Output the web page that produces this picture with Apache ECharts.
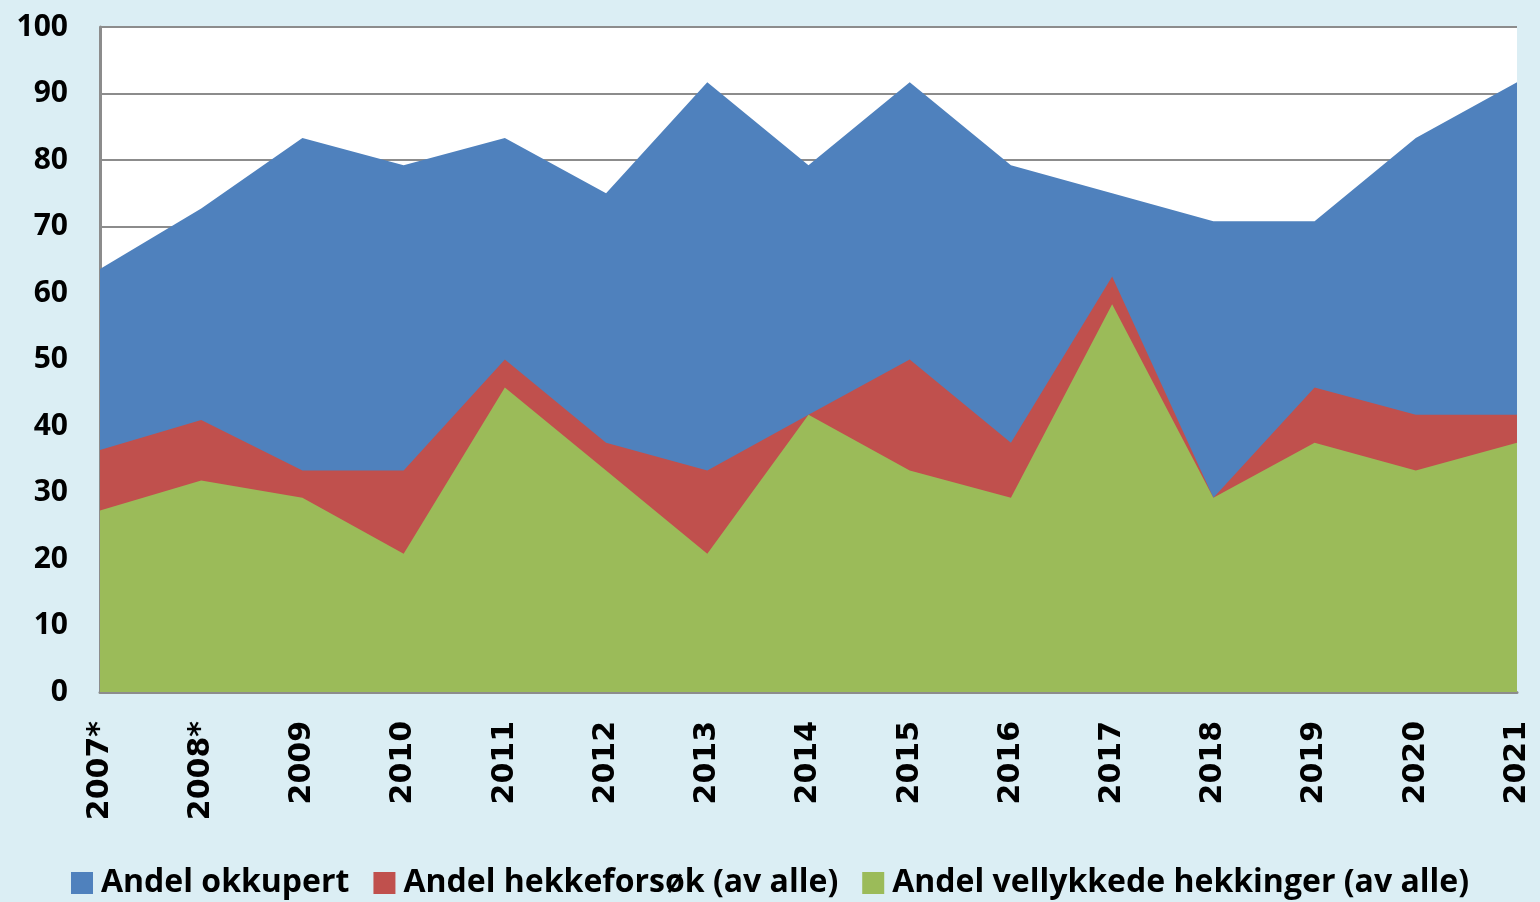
<!DOCTYPE html>
<html>
<head>
<meta charset="utf-8">
<script src="https://cdn.jsdelivr.net/npm/echarts@6/dist/echarts.min.js"></script>
<style>
  html, body { margin: 0; padding: 0; background: #DBEEF4; }
  #chart { width: 1540px; height: 902px; }
</style>
</head>
<body>
<div id="chart"></div>
<script>
// år
var years = ['2007*', '2008*', '2009', '2010', '2011', '2012', '2013', '2014',
             '2015', '2016', '2017', '2018', '2019', '2020', '2021'];
// Andel okkupert
var okkupert = [63.6, 72.7, 83.3, 79.2, 83.3, 75.0, 91.7, 79.2, 91.7, 79.2, 75.0, 70.8, 70.8, 83.3, 91.7];
// Andel hekkeforsøk (av alle)
var hekkeforsok = [36.4, 40.9, 33.3, 33.3, 50.0, 37.5, 33.3, 41.7, 50.0, 37.5, 62.5, 29.2, 45.8, 41.7, 41.7];
// Andel vellykkede hekkinger (av alle)
var vellykkede = [27.3, 31.8, 29.2, 20.8, 45.8, 33.3, 20.8, 41.7, 33.3, 29.2, 58.3, 29.2, 37.5, 33.3, 37.5];

var seriesNames = ['Andel okkupert', 'Andel hekkeforsøk (av alle)', 'Andel vellykkede hekkinger (av alle)'];
var colors = ['#4F81BD', '#C0504D', '#9BBB59'];

function areaSerie(name, data, color) {
    return {
        name: name,
        type: 'line',
        data: data,
        showSymbol: false,
        symbol: 'none',
        lineStyle: { width: 0, color: color },
        itemStyle: { color: color },
        areaStyle: { color: color, opacity: 1 },
        animation: false
    };
}

var myChart = echarts.init(document.getElementById('chart'));
var option = {
    backgroundColor: '#DBEEF4',
    grid: {
        left: 100,
        right: 23,
        top: 27,
        bottom: 210,
        show: true,
        backgroundColor: '#ffffff',
        borderWidth: 0
    },
    legend: {
        top: 862,
        left: 'center',
        itemWidth: 22,
        itemHeight: 22,
        itemGap: 24,
        icon: 'rect',
        textStyle: {
            fontFamily: 'Open Sans',
            fontWeight: 'bold',
            fontSize: 32,
            color: '#000',
            padding: [0, 0, 0, 3]
        },
        data: seriesNames
    },
    xAxis: {
        type: 'category',
        data: years,
        boundaryGap: false,
        axisLine: { lineStyle: { color: '#8C8C8C', width: 3 } },
        axisTick: { show: false },
        axisLabel: {
            rotate: 90,
            margin: 29,
            interval: 0,
            fontFamily: 'DejaVu Sans',
            fontWeight: 'bold',
            fontSize: 30,
            color: '#000'
        },
        splitLine: { show: false }
    },
    yAxis: {
        type: 'value',
        min: 0,
        max: 100,
        interval: 10,
        axisLine: { show: true, lineStyle: { color: '#8C8C8C', width: 3 } },
        axisTick: { show: false },
        axisLabel: {
            margin: 32,
            fontFamily: 'Open Sans',
            fontWeight: 'bold',
            fontSize: 30,
            color: '#000'
        },
        splitLine: { lineStyle: { color: '#8C8C8C', width: 2 } }
    },
    series: [
        areaSerie(seriesNames[0], okkupert, colors[0]),
        areaSerie(seriesNames[1], hekkeforsok, colors[1]),
        areaSerie(seriesNames[2], vellykkede, colors[2])
    ]
};
myChart.setOption(option);
</script>
</body>
</html>
